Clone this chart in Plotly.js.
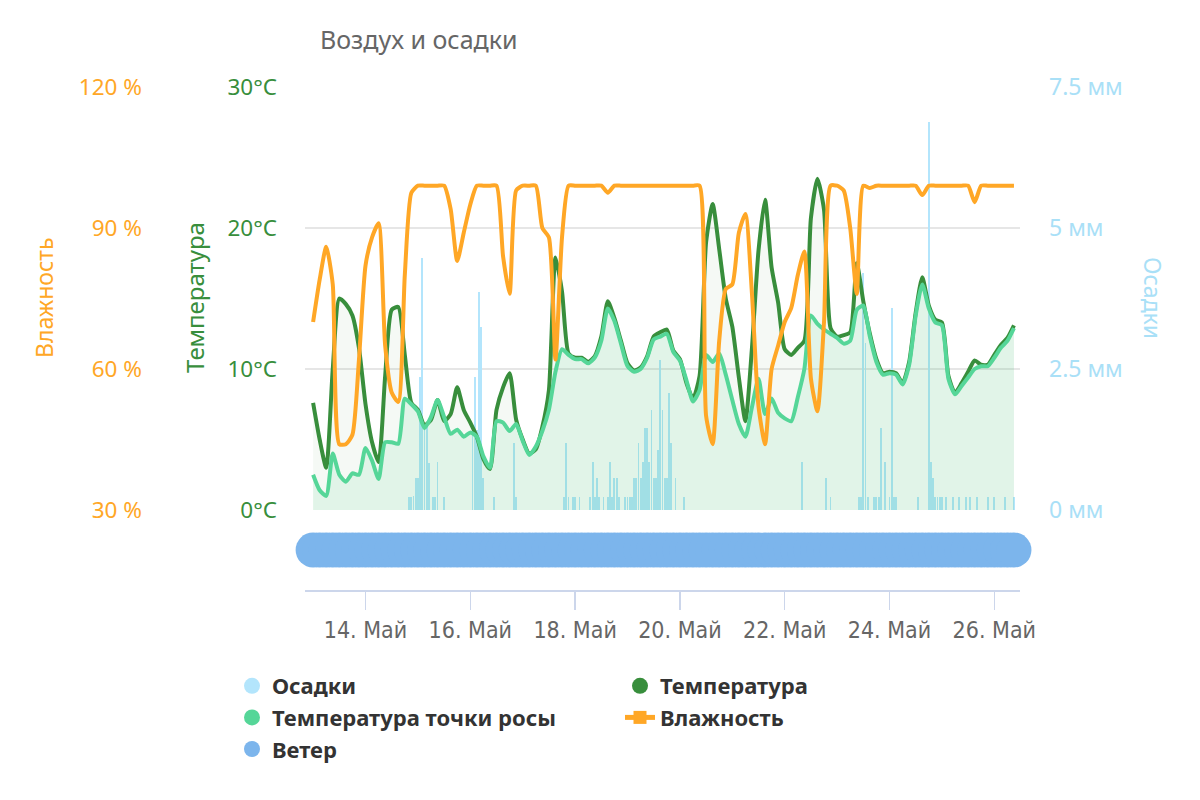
<!DOCTYPE html>
<html>
<head>
<meta charset="utf-8">
<script src="https://cdn.plot.ly/plotly-3.0.1.min.js"></script>
<style>html,body{margin:0;padding:0;background:#fff;}#chart{width:1200px;height:800px;}</style>
</head>
<body>
<div id="chart"></div>
<script>
// ---- data (3-hourly from 13 May 00:00) ----
const temperature = [7.6, 5.0, 3.0, 10.0, 15.0, 14.6, 13.8, 11.5,
 7.5, 4.8, 3.4, 9.5, 14.2, 14.4, 11.0, 7.6,
 7.1, 6.0, 6.4, 7.8, 6.3, 6.8, 8.7, 7.1,
 6.2, 5.2, 3.6, 2.9, 7.1, 8.7, 9.7, 6.4,
 5.0, 4.0, 4.3, 5.9, 8.5, 17.9, 15.5, 11.1,
 10.8, 10.8, 10.5, 10.9, 12.3, 14.8, 13.6, 12.0,
 10.4, 9.9, 10.1, 10.9, 12.3, 12.6, 12.8, 11.3,
 10.7, 9.0, 7.9, 9.5, 19.0, 21.7, 18.5, 15.0,
 13.0, 9.4, 6.3, 11.5, 18.4, 22.0, 17.2, 14.7,
 11.4, 11.0, 11.5, 12.0, 20.7, 23.5, 21.3, 12.9,
 12.3, 12.4, 12.6, 17.5, 14.8, 12.5, 10.7, 9.7,
 9.8, 9.7, 9.0, 10.5, 14.0, 16.5, 14.5, 13.5,
 13.3, 9.5, 8.3, 9.0, 9.8, 10.6, 10.3, 10.3,
 11.0, 11.7, 12.2, 13.1];

const dewPoint = [2.5, 1.4, 1.0, 4.0, 2.5, 2.0, 2.6, 2.5,
 4.4, 3.5, 2.2, 4.8, 4.8, 4.7, 7.9, 7.5,
 7.0, 5.8, 6.6, 7.8, 6.6, 5.4, 5.7, 5.2,
 5.5, 5.2, 3.8, 3.0, 6.3, 6.2, 5.6, 6.1,
 4.9, 3.9, 4.5, 5.6, 7.1, 9.8, 11.4, 11.0,
 10.7, 10.7, 10.4, 10.8, 12.0, 14.3, 13.4, 11.8,
 10.2, 9.8, 10.0, 10.8, 12.1, 12.3, 12.5, 11.2,
 10.6, 9.2, 7.7, 8.5, 11.0, 10.5, 11.1, 9.6,
 7.8, 6.1, 5.2, 7.3, 9.3, 6.8, 7.9, 6.9,
 6.5, 6.3, 8.0, 10.0, 13.8, 13.2, 12.8, 12.5,
 12.2, 11.8, 12.0, 14.2, 14.5, 12.3, 10.5, 9.6,
 9.7, 9.6, 8.9, 10.3, 13.8, 16.0, 14.3, 13.3,
 13.1, 9.3, 8.2, 8.8, 9.4, 10.0, 10.2, 10.2,
 10.8, 11.5, 12.0, 12.9];

const humidity = [70, 79, 86, 78, 44, 44, 46, 62,
 82, 88, 91, 65, 55, 53, 80, 97.5,
 99, 99, 99, 99, 99, 94, 83, 89,
 95, 99, 99, 99, 99, 84, 76, 98,
 99, 99, 99, 90, 88, 62, 88, 99,
 99, 99, 99, 99, 99, 97.5, 99, 99,
 99, 99, 99, 99, 99, 99, 99, 99,
 99, 99, 99, 99, 50, 44, 66, 77,
 78, 89, 93, 76, 52, 44, 60, 65,
 70, 73, 80, 85, 58, 51, 70, 99,
 99, 98, 90, 76, 99, 98.5, 99, 99,
 99, 99, 99, 99, 99, 97, 99, 99,
 99, 99, 99, 99, 99, 95.5, 99, 99,
 99, 99, 99, 99];

// precipitation, hourly (hour offset from 13 May 00:00)
const precipHour = [44,45,46,47,48,49,50,51,52,53,55,56,57,60,
 73,74,75,76,77,78,83,92,93,
 115,116,117,119,120,122,127,128,129,130,131,133,135,136,137,138,139,140,143,144,145,146,147,148,149,150,151,152,153,154,155,156,157,158,159,160,161,162,163,164,166,170,
 224,235,237,
 250,251,252,253,254,257,258,259,260,262,264,265,266,267,277,
 282,283,284,285,286,287,288,290,293,296,299,301,304,309,312,317,321];
const precip = [0.23,0.23,0.25,0.57,0.57,2.36,4.47,1.54,1.54,0.83,0.23,0.23,0.85,0.23,
 1.42,2.36,1.42,3.87,3.24,0.57,0.23,1.19,0.23,
 0.23,1.19,0.23,0.23,0.23,0.23,0.23,0.85,0.23,0.57,0.23,0.23,0.23,0.85,0.23,0.57,0.57,0.23,0.23,0.23,0.23,0.23,0.57,0.57,1.19,0.57,0.85,1.45,1.45,0.85,1.77,0.57,0.57,1.06,2.66,1.77,0.57,0.57,2.07,1.19,0.57,0.23,
 0.85,0.57,0.23,
 0.23,0.23,4.2,2.96,0.23,0.23,0.23,0.23,1.45,0.85,0.23,3.58,0.23,0.23,0.23,
 6.88,0.85,0.57,0.23,0.23,0.23,0.23,0.23,0.23,0.23,0.23,0.23,0.23,0.23,0.23,0.23,0.23];

const xTickVals = ['2024-05-14','2024-05-16','2024-05-18','2024-05-20','2024-05-22','2024-05-24','2024-05-26'];
const xTickText = ['14. Май','16. Май','18. Май','20. Май','22. Май','24. Май','26. Май'];
const tempTickVals = [0,10,20,30];
const tempTickText = ['0°C','10°C','20°C','30°C'];
const humTickVals = [30,60,90,120];
const humTickText = ['30 %','60 %','90 %','120 %'];
const precipTickVals = [0,2.5,5,7.5];
const precipTickText = ['0 мм','2.5 мм','5 мм','7.5 мм'];

// ---- time stamps ----
function stamp(hourOffset){
  const d = 13 + Math.floor(hourOffset/24), h = hourOffset % 24;
  return '2024-05-' + String(d).padStart(2,'0') + ' ' + String(h).padStart(2,'0') + ':00';
}
const stepHours = 3;
const times = temperature.map((_, i) => stamp(i*stepHours));
const precipTimes = precipHour.map(stamp);

const C = {
  hum:'#ffa726', temp:'#388e3c', dew:'#55d698', rain:'#b3e5fc', wind:'#7cb5ec', rainLabel:'#a9e0f7'
};
const W = 1140; // paper width (1200 - right margin)
const px = v => v / W;
const py = v => 1 - v / 800;
const FONT = '"Noto Sans", "Open Sans", sans-serif';
const SPL = {shape:'spline', smoothing:0.6};

const traces = [
  { type:'bar', x:precipTimes, y:precip, yaxis:'y', xaxis:'x', name:'Осадки',
    marker:{color:C.rain, line:{width:0}}, width:3600000*0.85, showlegend:false, hoverinfo:'x+y' },
  { type:'scatter', mode:'lines', x:times, y:temperature, yaxis:'y2', name:'Температура',
    line:Object.assign({color:C.temp, width:4}, SPL), fill:'tozeroy', fillcolor:'rgba(56,142,60,0.05)', showlegend:false },
  { type:'scatter', mode:'lines', x:times, y:dewPoint, yaxis:'y2', name:'Температура точки росы',
    line:Object.assign({color:C.dew, width:4}, SPL), fill:'tozeroy', fillcolor:'rgba(90,215,150,0.13)', showlegend:false },
  { type:'scatter', mode:'lines', x:times, y:humidity, yaxis:'y3', name:'Влажность',
    line:Object.assign({color:C.hum, width:4}, SPL), showlegend:false },
  { type:'scatter', mode:'markers', x:times, y:times.map(() => 'Ветер'), yaxis:'y4', name:'Ветер',
    marker:{color:C.wind, size:35, line:{width:0}}, cliponaxis:false, showlegend:false, hoverinfo:'x' },
  // legend entries
  { type:'scatter', mode:'markers', x:[null], y:[null], yaxis:'y', name:'Осадки', marker:{color:C.rain, size:22} },
  { type:'scatter', mode:'markers', x:[null], y:[null], yaxis:'y', name:'Температура', marker:{color:C.temp, size:22} },
  { type:'scatter', mode:'markers', x:[null], y:[null], yaxis:'y', name:'Температура точки росы', marker:{color:C.dew, size:22} },
  { type:'scatter', mode:'lines+markers', x:[null], y:[null], yaxis:'y', name:'Влажность', line:{color:C.hum, width:5}, marker:{color:C.hum, size:13, symbol:'square'} },
  { type:'scatter', mode:'markers', x:[null], y:[null], yaxis:'y', name:'Ветер', marker:{color:C.wind, size:22} }
];

const layout = {
  width:1200, height:800,
  margin:{l:0, r:60, t:0, b:0},
  paper_bgcolor:'#ffffff', plot_bgcolor:'rgba(0,0,0,0)',
  title:{text:'Воздух и осадки', xref:'paper', x:px(320), xanchor:'left', yref:'container', y:py(40), yanchor:'middle',
         font:{family:FONT, size:25, color:'#666666'}},
  xaxis:{type:'date', domain:[px(305), px(1020)], range:['2024-05-12 20:17','2024-05-26 11:46'], anchor:'y4',
         tickvals:xTickVals, ticktext:xTickText, ticks:'outside', ticklen:18, tickwidth:1.5, tickcolor:'#ccd6eb',
         showline:true, linecolor:'#ccd6eb', linewidth:2, showgrid:false, zeroline:false,
         tickfont:{family:'"Liberation Sans Narrow", "DejaVu Sans Condensed", sans-serif', size:23, color:'#666666'}},
  yaxis:{domain:[py(510), py(87)], range:[0,7.5], anchor:'free', position:px(1048), side:'right',
         tickvals:precipTickVals, ticktext:precipTickText, ticks:'', showgrid:true, gridcolor:'#e6e6e6', gridwidth:1.5,
         zeroline:false, showline:false, tickfont:{family:FONT, size:23, color:C.rainLabel}},
  yaxis2:{overlaying:'y', range:[0,30], anchor:'free', position:px(277), side:'left',
          tickvals:tempTickVals, ticktext:tempTickText, ticks:'', showgrid:false, zeroline:false, showline:false,
          tickfont:{family:FONT, size:22.5, color:C.temp}},
  yaxis3:{overlaying:'y', range:[30,120], anchor:'free', position:px(142), side:'left',
          tickvals:humTickVals, ticktext:humTickText, ticks:'', showgrid:false, zeroline:false, showline:false,
          tickfont:{family:FONT, size:22.5, color:C.hum}},
  yaxis4:{domain:[py(590), py(510)], anchor:'x', type:'category', range:[-0.5,0.5],
          showticklabels:false, showgrid:false, zeroline:false, showline:false, ticks:''},
  annotations:[
    {text:'Влажность', xref:'paper', yref:'paper', x:px(44), y:py(298), textangle:-90, showarrow:false,
     xanchor:'center', yanchor:'middle', font:{family:FONT, size:23, color:C.hum}},
    {text:'Температура', xref:'paper', yref:'paper', x:px(194), y:py(298), textangle:-90, showarrow:false,
     xanchor:'center', yanchor:'middle', font:{family:FONT, size:24, color:C.temp}},
    {text:'Осадки', xref:'paper', yref:'paper', x:px(1153), y:py(298), textangle:90, showarrow:false,
     xanchor:'center', yanchor:'middle', font:{family:FONT, size:23, color:C.rainLabel}}
  ],
  legend:{orientation:'h', x:px(232), xanchor:'left', y:py(665), yanchor:'top',
          entrywidth:343, entrywidthmode:'pixels', traceorder:'normal', bgcolor:'rgba(0,0,0,0)',
          font:{family:FONT, size:22, color:'#333333', weight:'bold'}},
  showlegend:true,
  bargap:0
};

Plotly.newPlot('chart', traces, layout, {displayModeBar:false, staticPlot:true});
</script>
</body>
</html>
